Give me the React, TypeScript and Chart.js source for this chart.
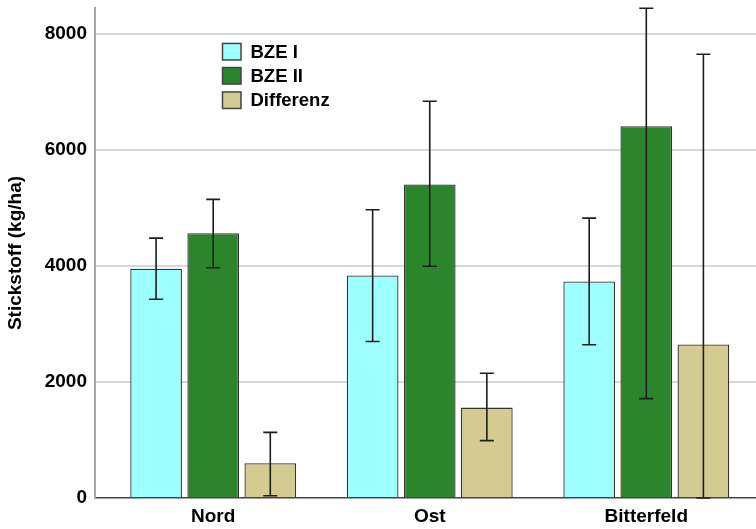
import React, { useEffect, useRef } from 'react';
import { Chart, registerables } from 'chart.js';

Chart.register(...registerables);

const categories = ['Nord', 'Ost', 'Bitterfeld'];
const seriesNames = ['BZE I', 'BZE II', 'Differenz'];
const bzeI = [3950, 3833, 3729];
const bzeII = [4562, 5402, 6402];
const differenz = [600, 1557, 2645];
const bzeILow = [3424, 2695, 2640];
const bzeIHigh = [4476, 4966, 4821];
const bzeIILow = [3966, 3993, 1712];
const bzeIIHigh = [5143, 6833, 8436];
const differenzLow = [40, 988, 0];
const differenzHigh = [1131, 2148, 7643];
const yTicks = [0, 2000, 4000, 6000, 8000];
const yMax = 8440;
const yTitle = 'Stickstoff (kg/ha)';

const fillColors = ['#9EFFFF', '#2B862B', '#D3CB8F'];
const borderColor = '#333333';
const FONT = '"Liberation Sans", Arial, sans-serif';

const seriesValues = [bzeI, bzeII, differenz];
const seriesLow = [bzeILow, bzeIILow, differenzLow];
const seriesHigh = [bzeIHigh, bzeIIHigh, differenzHigh];

const errorBarPlugin = {
  id: 'errorBars',
  afterDatasetsDraw(chart: any) {
    const ctx = chart.ctx;
    const yScale = chart.scales.y;
    ctx.save();
    ctx.strokeStyle = '#1e1e1e';
    ctx.lineWidth = 1.6;
    chart.data.datasets.forEach((ds: any, di: number) => {
      const meta = chart.getDatasetMeta(di);
      meta.data.forEach((bar: any, i: number) => {
        const x = bar.x;
        const yLo = yScale.getPixelForValue(seriesLow[di][i]);
        const yHi = yScale.getPixelForValue(seriesHigh[di][i]);
        const cap = 7;
        ctx.beginPath();
        ctx.moveTo(x, yLo);
        ctx.lineTo(x, yHi);
        ctx.moveTo(x - cap, yHi);
        ctx.lineTo(x + cap, yHi);
        ctx.moveTo(x - cap, yLo);
        ctx.lineTo(x + cap, yLo);
        ctx.stroke();
      });
    });
    ctx.restore();
  },
};

const legendPlugin = {
  id: 'innerLegend',
  afterDraw(chart: any) {
    const ctx = chart.ctx;
    ctx.save();
    const boxX = 222.5;
    const boxW = 18.5;
    const boxH = 16.5;
    const rowY = [51.7, 75.8, 100.2];
    ctx.font = `bold 18.5px ${FONT}`;
    ctx.textBaseline = 'middle';
    ctx.textAlign = 'left';
    seriesNames.forEach((name, i) => {
      const cy = rowY[i];
      ctx.fillStyle = fillColors[i];
      ctx.fillRect(boxX, cy - boxH / 2, boxW, boxH);
      ctx.strokeStyle = '#444';
      ctx.lineWidth = 1.5;
      ctx.strokeRect(boxX, cy - boxH / 2, boxW, boxH);
      ctx.fillStyle = '#000';
      ctx.fillText(name, 250.5, cy + 1);
    });
    ctx.restore();
  },
};

export default function App() {
  const canvasRef = useRef<HTMLCanvasElement | null>(null);

  useEffect(() => {
    if (!canvasRef.current) return;
    const datasets = seriesNames.map((name, di) => ({
      label: name,
      data: seriesValues[di].map((v, i) => ({ x: i, y: v })),
      backgroundColor: fillColors[di],
      borderColor: borderColor,
      borderWidth: 1.3,
      categoryPercentage: 0.791,
      barPercentage: 0.905,
    }));
    const chart = new Chart(canvasRef.current, {
      type: 'bar',
      data: { datasets },
      options: {
        animation: false,
        responsive: false,
        devicePixelRatio: 1,
        layout: { padding: { top: 8, left: 0, right: 0, bottom: 0 } },
        plugins: {
          legend: { display: false },
          tooltip: { enabled: false },
        },
        scales: {
          x: {
            type: 'linear',
            min: -0.5458,
            max: 2.5066,
            offset: false,
            grid: { display: false, offset: false, drawTicks: false },
            border: { display: true, color: '#444', width: 1.5 },
            afterBuildTicks: (scale: any) => {
              scale.ticks = categories.map((_, i) => ({ value: i }));
            },
            afterFit: (scale: any) => {
              scale.height = 31;
              scale.paddingLeft = 0;
              scale.paddingRight = 0;
            },
            ticks: {
              autoSkip: false,
              maxRotation: 0,
              padding: 7,
              color: '#000',
              font: { family: FONT, size: 19, weight: 'bold' },
              callback: (v: any) => categories[v] ?? '',
            },
          },
          y: {
            min: 0,
            max: yMax,
            afterBuildTicks: (scale: any) => {
              scale.ticks = yTicks.map((v) => ({ value: v }));
            },
            afterFit: (scale: any) => {
              scale.width = 95;
              scale.paddingTop = 0;
              scale.paddingBottom = 0;
            },
            grid: {
              drawTicks: false,
              color: (c: any) => (c.tick && c.tick.value === 0 ? 'rgba(0,0,0,0)' : '#d8d8d8'),
              lineWidth: 2,
            },
            border: { display: true, color: '#a8a8a8', width: 2 },
            ticks: {
              padding: 8,
              color: '#000',
              font: { family: FONT, size: 19, weight: 'bold' },
              callback: (v: any) => String(v),
            },
            title: {
              display: true,
              text: yTitle,
              color: '#000',
              font: { family: FONT, size: 19, weight: 'bold', lineHeight: 1 },
              padding: { top: 6, bottom: 0 },
            },
          },
        },
      },
      plugins: [errorBarPlugin, legendPlugin],
    });
    return () => chart.destroy();
  }, []);

  return (
    <div style={{ position: 'absolute', left: 0, top: 0, width: 756, height: 529, background: '#fff' }}>
      <canvas ref={canvasRef} width={756} height={529} style={{ width: 756, height: 529, display: 'block' }} />
    </div>
  );
}
